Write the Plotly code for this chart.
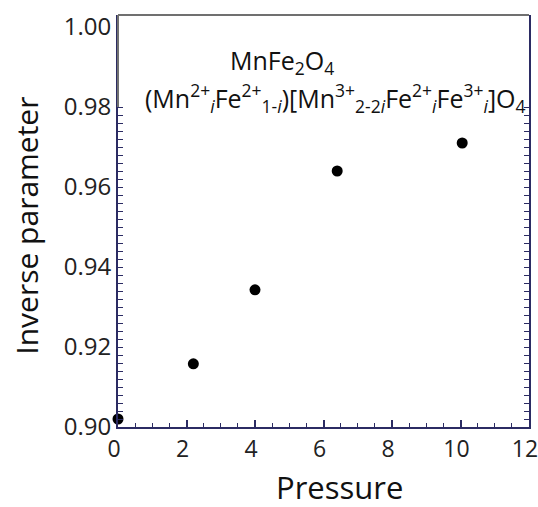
import plotly.graph_objects as go

# Inverse parameter of MnFe2O4 versus pressure
pressure = [0.0, 2.2, 4.0, 6.4, 10.05]
inverse_param = [0.902, 0.9158, 0.9343, 0.964, 0.971]

x_major = [0, 2, 4, 6, 8, 10, 12]
y_major = [0.90, 0.92, 0.94, 0.96, 0.98, 1.00]
y_labels = ["0.90", "0.92", "0.94", "0.96", "0.98", "1.00"]
y_minor = [round(0.902 + 0.002 * k, 3) for k in range(40)]

NAVY = "#2b2b63"
FONT = "Open Sans"

fig = go.Figure()
fig.add_trace(go.Scatter(
    x=pressure, y=inverse_param, mode="markers",
    marker=dict(color="black", size=11),
    showlegend=False, cliponaxis=False,
))

fig.update_layout(
    width=538, height=507,
    margin=dict(l=118, r=9, t=15, b=80, autoexpand=False),
    paper_bgcolor="white", plot_bgcolor="white",
    font=dict(family=FONT, color="#222222"),
    xaxis=dict(
        range=[0, 12], tickvals=x_major, ticklabeloverflow="allow", automargin=False,
        ticklabelshift=-4,
        showline=True, linecolor=NAVY, linewidth=2,
        ticks="inside", ticklen=7, tickwidth=1.5, tickcolor=NAVY,
        minor=dict(dtick=0.5, tick0=0, ticks="inside", ticklen=4,
                   tickwidth=1.2, tickcolor=NAVY, showgrid=False),
        showgrid=False, zeroline=False,
        tickfont=dict(size=23, family=FONT, color="#222222"),
    ),
    yaxis=dict(
        range=[0.90, 1.003], tickvals=y_major, ticktext=y_labels, automargin=False,
        showline=True, linecolor=NAVY, linewidth=2, mirror="ticks",
        ticks="", ticklen=0,
        minor=dict(tickmode="array", tickvals=y_minor, ticks="inside", ticklen=5,
                   tickwidth=1.2, tickcolor=NAVY, showgrid=False),
        showgrid=False, zeroline=False,
        tickfont=dict(size=24, family=FONT, color="#222222"),
    ),
)

# upper part of the frame is drawn in grey
fig.add_shape(type="line", xref="paper", yref="paper", x0=0, x1=1, y0=1, y1=1,
              line=dict(color="#707070", width=2))
fig.add_shape(type="line", xref="paper", yref="y", x0=0, x1=0, y0=0.98, y1=1.003,
              line=dict(color="#707070", width=2))

# axis titles
fig.add_annotation(
    xref="paper", yref="paper", x=0.538, y=-0.146, showarrow=False,
    xanchor="center", yanchor="middle",
    text="Pressure", font=dict(size=31, family=FONT, color="#111111"),
)
fig.add_annotation(
    xref="paper", yref="paper", x=-0.222, y=0.488, showarrow=False, textangle=-90,
    xanchor="center", yanchor="middle",
    text="Inverse parameter", font=dict(size=30, family=FONT, color="#111111"),
)

# formula labels
fig.add_annotation(
    xref="paper", yref="paper", x=0.40, y=0.937, showarrow=False,
    xanchor="center", yanchor="top",
    text="MnFe<sub>2</sub>O<sub>4</sub>",
    font=dict(size=25, family=FONT, color="#111111"),
)
fig.add_annotation(
    xref="paper", yref="paper", x=0.53, y=0.853, showarrow=False,
    xanchor="center", yanchor="top",
    text=("(Mn<sup>2+</sup><sub><i>i</i></sub>Fe<sup>2+</sup><sub>1-<i>i</i></sub>)"
          "[Mn<sup>3+</sup><sub>2-2<i>i</i></sub>Fe<sup>2+</sup><sub><i>i</i></sub>"
          "Fe<sup>3+</sup><sub><i>i</i></sub>]O<sub>4</sub>"),
    font=dict(size=25, family=FONT, color="#111111"),
)

fig.write_html("out.html")
